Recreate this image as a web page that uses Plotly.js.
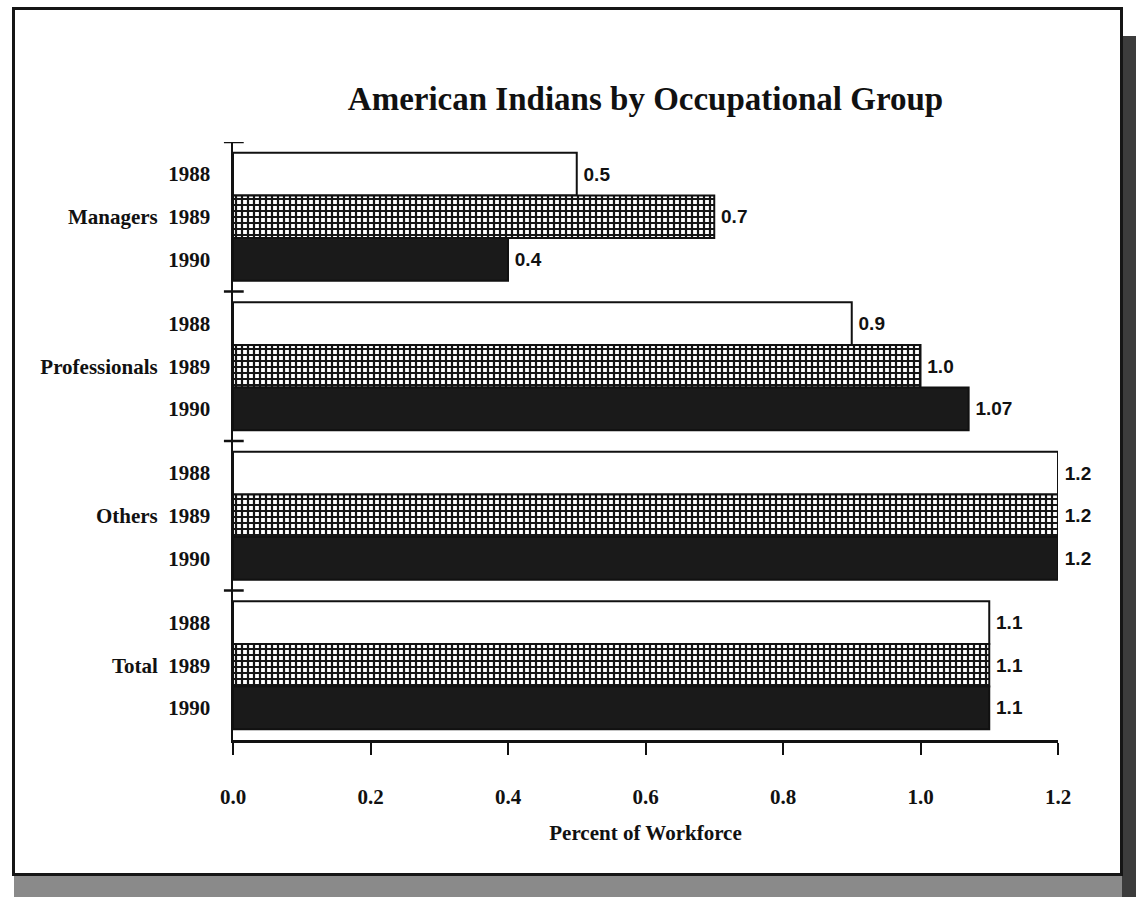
<!DOCTYPE html>
<html>
<head>
<meta charset="utf-8">
<script src="https://cdn.plot.ly/plotly-3.0.1.min.js"></script>
<style>
  html, body { margin: 0; padding: 0; background: #fff; }
  body { width: 1136px; height: 902px; position: relative; overflow: hidden; }
  #shadowB { position: absolute; left: 14px; top: 875px; width: 1130px; height: 22px; background: #8a8a8a; }
  #shadowR { position: absolute; left: 1122px; top: 36px; width: 20px; height: 861px; background: #3c3c3c; }
  #frame { position: absolute; left: 12px; top: 7px; width: 1111px; height: 869px; border: 3px solid #151515; box-sizing: border-box; background: #fff; }
  #chart { position: absolute; left: 0; top: 0; width: 1136px; height: 902px; }
</style>
</head>
<body>
<div id="shadowB"></div>
<div id="shadowR"></div>
<div id="frame"></div>
<div id="chart"></div>
<script>
// ---- data ----
const groups = ['Managers', 'Professionals', 'Others', 'Total'];
const years = ['1988', '1989', '1990'];
const v1988 = [0.50, 0.90, 1.20, 1.10];
const v1989 = [0.70, 1.00, 1.20, 1.10];
const v1990 = [0.40, 1.07, 1.20, 1.10];
const t1988 = ['0.5', '0.9', '1.2', '1.1'];
const t1989 = ['0.7', '1.0', '1.2', '1.1'];
const t1990 = ['0.4', '1.07', '1.2', '1.1'];
const xTicks = [0, 0.2, 0.4, 0.6, 0.8, 1.0, 1.2];

// ---- layout helpers (positions on numeric category axis) ----
const span = 3.5;   // units per group (3 bars + gap)
const pad = 0.25;
function pos(k) { return groups.map((g, i) => i * span + pad + k + 0.5); }

const serif = 'Liberation Serif, Times New Roman, serif';
const sans = 'Liberation Sans, Arial, sans-serif';
const lineStyle = { color: '#111', width: 2 };

const textFont = { family: sans, size: 19, color: '#111', weight: 'bold' };
const tmpl = '\u2009%{text}';

const traces = [
  {
    type: 'bar', orientation: 'h', name: years[0],
    x: v1988, y: pos(0), width: 1,
    marker: { color: '#ffffff', line: lineStyle },
    text: t1988, texttemplate: tmpl, textposition: 'outside', textfont: textFont,
    constraintext: 'none', cliponaxis: false, hoverinfo: 'x'
  },
  {
    type: 'bar', orientation: 'h', name: years[1],
    x: v1989, y: pos(1), width: 1,
    marker: { color: '#ffffff', line: lineStyle,
      pattern: { shape: '+', fgcolor: '#151515', bgcolor: '#ffffff', size: 6, solidity: 0.6 } },
    text: t1989, texttemplate: tmpl, textposition: 'outside', textfont: textFont,
    constraintext: 'none', cliponaxis: false, hoverinfo: 'x'
  },
  {
    type: 'bar', orientation: 'h', name: years[2],
    x: v1990, y: pos(2), width: 1,
    marker: { color: '#1a1a1a', line: lineStyle },
    text: t1990, texttemplate: tmpl, textposition: 'outside', textfont: textFont,
    constraintext: 'none', cliponaxis: false, hoverinfo: 'x'
  }
];

// tick labels on y axis
const yVals = [], yText = [];
groups.forEach((g, i) => {
  years.forEach((yr, k) => {
    yVals.push(i * span + pad + k + 0.5);
    yText.push(k === 1 ? g + '\u00A0\u00A0' + yr : yr);
  });
});

// group separator tick marks crossing the y axis
const shapes = groups.map((g, i) => ({
  type: 'line', xref: 'paper', yref: 'y',
  x0: -0.011, x1: 0.013, y0: i * span, y1: i * span,
  line: { color: '#111', width: 2.5 }
}));

const layout = {
  width: 1136, height: 902,
  margin: { l: 233, r: 78, t: 142, b: 162 },
  paper_bgcolor: 'rgba(0,0,0,0)',
  plot_bgcolor: 'rgba(0,0,0,0)',
  showlegend: false,
  barmode: 'overlay',
  title: {
    text: 'American Indians by Occupational Group',
    font: { family: serif, size: 33, color: '#111', weight: 'bold' },
    xref: 'paper', x: 0.5, xanchor: 'center',
    yref: 'container', y: 1 - 98 / 902, yanchor: 'middle'
  },
  xaxis: {
    range: [0, 1.2],
    tickvals: xTicks,
    tickformat: '.1f',
    showline: true, linecolor: '#111', linewidth: 2.5,
    ticks: 'outside', ticklen: 12, tickwidth: 2, tickcolor: '#111',
    ticklabelstandoff: 24,
    showgrid: false, zeroline: false,
    tickfont: { family: serif, size: 21, color: '#111', weight: 'bold' },
    title: {
      text: 'Percent of Workforce', standoff: 18,
      font: { family: serif, size: 21, color: '#111', weight: 'bold' }
    }
  },
  yaxis: {
    range: [groups.length * span, 0],
    tickvals: yVals, ticktext: yText,
    showline: true, linecolor: '#111', linewidth: 2.5,
    ticks: '', ticklabelstandoff: 16,
    showgrid: false, zeroline: false,
    tickfont: { family: serif, size: 21, color: '#111', weight: 'bold' }
  },
  shapes: shapes
};

Plotly.newPlot('chart', traces, layout, { displayModeBar: false, staticPlot: true });
</script>
</body>
</html>
